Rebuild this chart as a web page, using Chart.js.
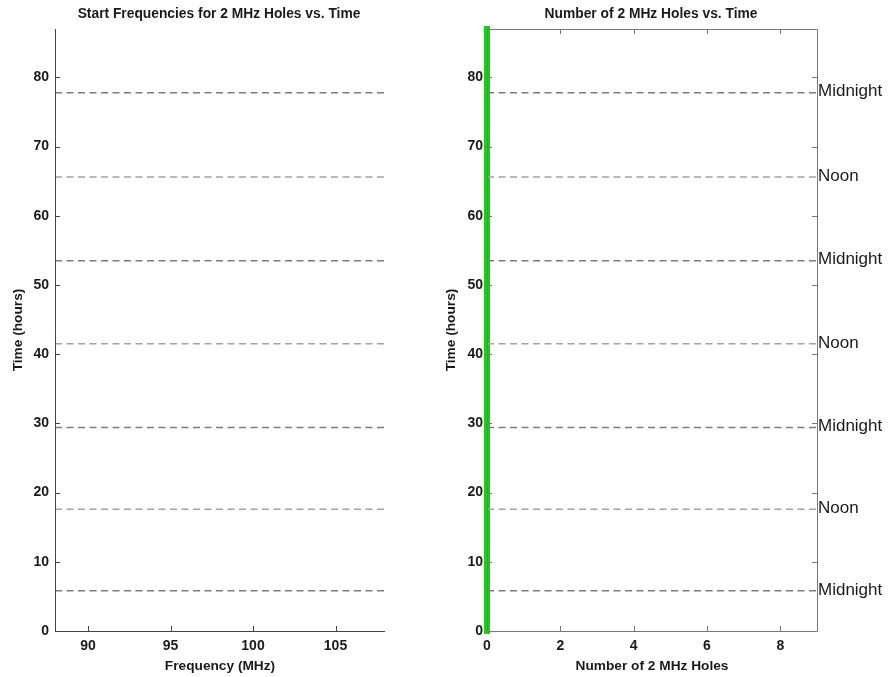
<!DOCTYPE html>
<html><head><meta charset="utf-8">
<script src="https://cdn.jsdelivr.net/npm/chart.js@4/dist/chart.umd.min.js"></script>
<style>
html,body{margin:0;padding:0;background:#fff;width:889px;height:677px;overflow:hidden}
canvas{position:absolute;top:0}
#c1{left:0}#c2{left:440px}
</style></head><body>
<canvas id="c1" width="440" height="677"></canvas>
<canvas id="c2" width="449" height="677"></canvas>
<script>
// ---- data ----
const timeTicks = [0, 10, 20, 30, 40, 50, 60, 70, 80];
const freqTicks = [90, 95, 100, 105];
const holeTicks = [0, 2, 4, 6, 8];
const timeRange = [0, 87];
const freqRange = [88, 108];
const holeRange = [0, 9];
const markerTimes = [77.8, 65.6, 53.5, 41.5, 29.4, 17.6, 5.8];
const markerLabels = ['Midnight', 'Noon', 'Midnight', 'Noon', 'Midnight', 'Noon', 'Midnight'];
const holeTimes = [0, 87];
const holeCounts = [0, 0];
const titles = ['Start Frequencies for 2 MHz Holes vs. Time', 'Number of 2 MHz Holes vs. Time'];
const xTitles = ['Frequency (MHz)', 'Number of 2 MHz Holes'];
const yTitle = 'Time (hours)';

// ---- style ----
const FONT = 'Liberation Sans, Arial, Helvetica, sans-serif';
Chart.defaults.font.family = FONT;
Chart.defaults.color = '#111';
const dashColor = l => l === 'Noon' ? '#a3a3a3' : '#7c7c7c';
const TXT = '#1a1a1a';

function markerDatasets(xr) {
  return markerTimes.map((t, i) => ({
    data: [{x: xr[0], y: t}, {x: xr[1], y: t}],
    borderColor: dashColor(markerLabels[i]),
    borderWidth: 1.5,
    borderDash: [7, 4.5],
    pointRadius: 0,
    fill: false
  }));
}

function axesPlugin(idx, opts) {
  return {
    id: 'axes' + idx,
    afterDatasetsDraw(chart) {
      const ctx = chart.ctx, a = chart.chartArea;
      const xs = chart.scales.x, ys = chart.scales.y;
      ctx.save();
      ctx.lineWidth = 1;
      ctx.strokeStyle = opts.axisColor;
      ctx.beginPath();
      ctx.moveTo(a.left + 0.5, a.top); ctx.lineTo(a.left + 0.5, a.bottom + 0.5);
      ctx.lineTo(a.right, a.bottom + 0.5);
      if (opts.box) {
        ctx.lineTo(a.right + 0.5, a.bottom + 0.5);
        ctx.lineTo(a.right + 0.5, a.top + 0.5);
        ctx.lineTo(a.left + 0.5, a.top + 0.5);
      }
      ctx.stroke();
      const L = 5;
      ctx.beginPath();
      opts.xTicks.forEach(v => {
        const px = Math.round(xs.getPixelForValue(v)) + 0.5;
        ctx.moveTo(px, a.bottom); ctx.lineTo(px, a.bottom - L);
        if (opts.box) { ctx.moveTo(px, a.top); ctx.lineTo(px, a.top + L); }
      });
      timeTicks.forEach(v => {
        const py = Math.round(ys.getPixelForValue(v)) + 0.5;
        ctx.moveTo(a.left, py); ctx.lineTo(a.left + L, py);
        if (opts.box) { ctx.moveTo(a.right, py); ctx.lineTo(a.right - L, py); }
      });
      ctx.stroke();
      ctx.restore();
    },
    afterDraw(chart) {
      const ctx = chart.ctx, a = chart.chartArea;
      ctx.save();
      ctx.fillStyle = TXT;
      ctx.font = 'bold 13.8px ' + FONT;
      ctx.textAlign = 'center';
      ctx.textBaseline = 'middle';
      ctx.fillText(titles[idx], (a.left + a.right) / 2 - 1, 14);
      if (opts.labels) {
        const ys = chart.scales.y;
        ctx.font = '17px ' + FONT;
        ctx.textAlign = 'left';
        markerTimes.forEach((t, i) => {
          ctx.fillText(markerLabels[i], a.right + 1, ys.getPixelForValue(t) - 1);
        });
      }
      ctx.restore();
    }
  };
}

function makeChart(id, idx, cfg) {
  const datasets = markerDatasets(cfg.xRange);
  if (cfg.green) {
    datasets.push({
      data: holeTimes.map((t, i) => ({x: holeCounts[i], y: t})),
      borderColor: '#1ccc1c',
      borderWidth: 6,
      borderCapStyle: 'square',
      pointRadius: 0,
      clip: false,
      fill: false
    });
  }
  return new Chart(document.getElementById(id), {
    type: 'line',
    data: {datasets},
    options: {
      responsive: false,
      animation: false,
      devicePixelRatio: 1,
      layout: {padding: {top: 29, right: cfg.rightPad, left: 0, bottom: 0}},
      plugins: {legend: {display: false}, tooltip: {enabled: false}, title: {display: false}},
      scales: {
        x: {
          type: 'linear', min: cfg.xRange[0], max: cfg.xRange[1],
          afterBuildTicks: s => { s.ticks = cfg.xTicks.map(v => ({value: v})); },
          afterFit: s => { s.height = 46; },
          grid: {display: false, drawTicks: false},
          border: {display: false},
          ticks: {padding: 7, font: {size: 14, weight: 'bold'}, color: TXT, maxRotation: 0, autoSkip: false},
          title: {display: true, text: xTitles[idx], font: {size: 13.7, weight: 'bold'}, color: TXT, padding: {top: 0, bottom: 3}}
        },
        y: {
          type: 'linear', min: timeRange[0], max: timeRange[1],
          afterBuildTicks: s => { s.ticks = timeTicks.map(v => ({value: v})); },
          afterFit: s => { s.width = cfg.yWidth; },
          grid: {display: false, drawTicks: false},
          border: {display: false},
          ticks: {padding: cfg.yPad, font: {size: 14, weight: 'bold'}, color: TXT, autoSkip: false},
          title: {display: true, text: yTitle, font: {size: 13.7, weight: 'bold'}, color: TXT, padding: {top: cfg.yTitlePad, bottom: 0}}
        }
      }
    },
    plugins: [axesPlugin(idx, {axisColor: cfg.axisColor, box: cfg.box, xTicks: cfg.xTicks, labels: cfg.labels})]
  });
}

makeChart('c1', 0, {xRange: freqRange, xTicks: freqTicks, rightPad: 55, yWidth: 55, yPad: 6, yTitlePad: 10,
  axisColor: '#444', box: false, labels: false, green: false});
makeChart('c2', 1, {xRange: holeRange, xTicks: holeTicks, rightPad: 72, yWidth: 47, yPad: 4, yTitlePad: 3,
  axisColor: '#777', box: true, labels: true, green: true});
</script>
</body></html>
